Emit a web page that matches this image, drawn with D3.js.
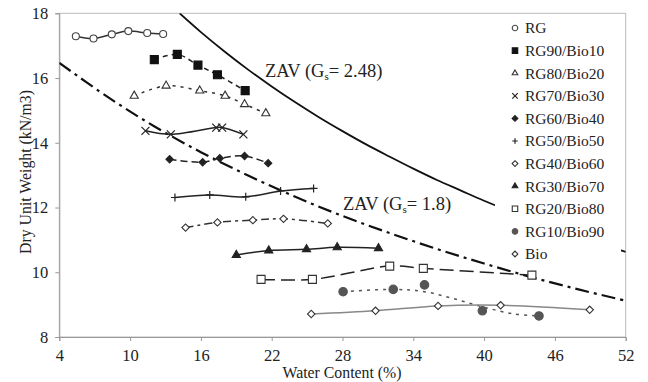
<!DOCTYPE html>
<html>
<head>
<meta charset="utf-8">
<script src="https://cdn.jsdelivr.net/npm/d3@7"></script>
<style>
  body { margin: 0; background: #fff; }
  svg text { font-family: "Liberation Serif", "Times New Roman", serif; fill: #222; }
</style>
</head>
<body>
<svg id="chart" width="648" height="382"></svg>
<script>
// compaction curves: [water content %, dry unit weight kN/m3]

var xTicks = [4, 10, 16, 22, 28, 34, 40, 46, 52];
var yTicks = [8, 10, 12, 14, 16, 18];

var rg      = [[5.4, 17.29], [6.9, 17.22], [8.45, 17.35], [9.85, 17.45], [11.45, 17.39], [12.8, 17.36]];
var rg90    = [[12.05, 16.57], [14.0, 16.73], [15.75, 16.40], [17.4, 16.10], [19.75, 15.61]];
var rg80    = [[10.35, 15.45], [13.05, 15.76], [15.9, 15.61], [18.05, 15.45], [19.7, 15.19], [21.5, 14.91]];
var rg70    = [[11.3, 14.37], [13.45, 14.26], [17.3, 14.47], [17.8, 14.47], [19.6, 14.26]];
var rg60    = [[13.35, 13.49], [16.15, 13.40], [17.6, 13.52], [19.7, 13.59], [21.7, 13.37]];
var rg50    = [[13.8, 12.31], [16.75, 12.39], [19.8, 12.33], [22.75, 12.51], [25.55, 12.59]];
var rg40    = [[14.7, 11.38], [17.4, 11.54], [20.4, 11.61], [23.0, 11.65], [26.75, 11.51]];
var rg30    = [[19.0, 10.53], [21.75, 10.67], [24.95, 10.71], [27.55, 10.77], [31.05, 10.74]];
var rg20    = [[21.1, 9.78], [25.45, 9.78], [32.0, 10.19], [34.85, 10.12], [44.05, 9.91]];
var rg10    = [[28.05, 9.40], [32.3, 9.47], [34.95, 9.61], [39.85, 8.81], [44.65, 8.65]];
var bio     = [[25.35, 8.71], [30.8, 8.81], [36.1, 8.96], [41.4, 8.98], [48.95, 8.84]];

// the RG10/Bio90 line is a fitted trend, it misses some points
var rg10Trend = [[28.05, 9.40], [32.3, 9.47], [34.95, 9.40], [37.45, 9.18], [40.0, 8.92], [42.55, 8.71], [44.65, 8.65]];

// zero air voids lines
var zav248 = [[14.2, 18.0], [16, 17.42], [18, 16.82], [20, 16.26], [22, 15.74], [24, 15.25],
              [26, 14.79], [28, 14.36], [30, 13.95], [32, 13.57], [34, 13.20], [36, 12.85],
              [38, 12.53], [40, 12.21], [44, 11.63], [48, 11.11], [52, 10.63]];
var zav18  = [[4, 16.47], [8, 15.44], [12, 14.52], [16, 13.71], [20, 12.99], [24, 12.33],
              [28, 11.74], [32, 11.21], [36, 10.72], [40, 10.27], [44, 9.85], [48, 9.47], [52, 9.12]];

var series = [
  {name: "RG",         data: rg,   marker: "circle",   fill: "#fff",  stroke: "#444", line: "#333", dash: null},
  {name: "RG90/Bio10", data: rg90, marker: "square",   fill: "#111",  stroke: "#111", line: "#222", dash: "5,4"},
  {name: "RG80/Bio20", data: rg80, marker: "triangle", fill: "#fff",  stroke: "#333", line: "#333", dash: "3,5"},
  {name: "RG70/Bio30", data: rg70, marker: "x",        fill: "none",  stroke: "#222", line: "#222", dash: null},
  {name: "RG60/Bio40", data: rg60, marker: "diamond",  fill: "#222",  stroke: "#222", line: "#222", dash: "7,4"},
  {name: "RG50/Bio50", data: rg50, marker: "plus",     fill: "none",  stroke: "#222", line: "#222", dash: null},
  {name: "RG40/Bio60", data: rg40, marker: "diamond",  fill: "#fff",  stroke: "#333", line: "#333", dash: "8,4,3,4"},
  {name: "RG30/Bio70", data: rg30, marker: "triangle", fill: "#222",  stroke: "#222", line: "#222", dash: null},
  {name: "RG20/Bio80", data: rg20, marker: "square",   fill: "#fff",  stroke: "#333", line: "#222", dash: "14,6"},
  {name: "RG10/Bio90", data: rg10, marker: "circle",   fill: "#555",  stroke: "#555", line: "#555", dash: "3,5", trend: rg10Trend},
  {name: "Bio",        data: bio,  marker: "diamond",  fill: "#fff",  stroke: "#333", line: "#888", dash: null}
];

var svg = d3.select("#chart");
var plotL = 59.3, plotR = 625.7, plotT = 13.3, plotB = 337;

var x = d3.scaleLinear().domain([4, 52]).range([plotL, plotR]);
var y = d3.scaleLinear().domain([8, 18]).range([plotB, plotT]);

// plot frame
svg.append("rect")
  .attr("x", plotL).attr("y", plotT)
  .attr("width", plotR - plotL).attr("height", plotB - plotT)
  .attr("fill", "none").attr("stroke", "#bbb").attr("stroke-width", 1);

var xAxis = svg.append("g")
  .attr("transform", "translate(0," + plotB + ")")
  .call(d3.axisBottom(x).tickValues(xTicks).tickSize(4).tickPadding(4));
var yAxis = svg.append("g")
  .attr("transform", "translate(" + plotL + ",0)")
  .call(d3.axisLeft(y).tickValues(yTicks).tickSize(4).tickPadding(7));

[xAxis, yAxis].forEach(function (g) {
  g.attr("font-family", null);
  g.select(".domain").attr("stroke", "#999");
  g.selectAll(".tick line").attr("stroke", "#999");
  g.selectAll(".tick text")
    .attr("font-size", "16.5px")
    .attr("fill", "#222");
});
xAxis.selectAll(".tick text").attr("dy", "0.95em");

svg.append("clipPath").attr("id", "plotclip")
  .append("rect").attr("x", plotL).attr("y", plotT)
  .attr("width", plotR - plotL).attr("height", plotB - plotT);

var smooth = d3.line()
  .x(function (d) { return x(d[0]); })
  .y(function (d) { return y(d[1]); })
  .curve(d3.curveCatmullRom.alpha(0.5));

var plot = svg.append("g").attr("clip-path", "url(#plotclip)");

// ZAV curves
plot.append("path").datum(zav248)
  .attr("d", smooth).attr("fill", "none")
  .attr("stroke", "#111").attr("stroke-width", 1.8);
plot.append("path").datum(zav18)
  .attr("d", smooth).attr("fill", "none")
  .attr("stroke", "#111").attr("stroke-width", 2.2)
  .attr("stroke-dasharray", "14,5,3,5");

// series lines
series.forEach(function (s) {
  plot.append("path").datum(s.trend || s.data)
    .attr("d", smooth).attr("fill", "none")
    .attr("stroke", s.line).attr("stroke-width", 1.5)
    .attr("stroke-dasharray", s.dash);
});

function drawMarker(g, kind, size, fill, stroke) {
  var h = size / 2;
  if (kind === "x") {
    g.append("path").attr("d", "M" + (-h) + "," + (-h) + "L" + h + "," + h + "M" + (-h) + "," + h + "L" + h + "," + (-h))
      .attr("stroke", stroke).attr("stroke-width", 1.2).attr("fill", "none");
  } else if (kind === "plus") {
    g.append("path").attr("d", "M" + (-h) + ",0L" + h + ",0M0," + (-h) + "L0," + h)
      .attr("stroke", stroke).attr("stroke-width", 1.2).attr("fill", "none");
  } else {
    var type = kind === "circle" ? d3.symbolCircle : kind === "triangle" ? d3.symbolTriangle : d3.symbolSquare;
    var area = kind === "circle" ? Math.PI * h * h : kind === "triangle" ? size * size * 0.45 : size * size * (kind === "diamond" ? 0.55 : 1);
    g.append("path").attr("d", d3.symbol().type(type).size(area)())
      .attr("transform", kind === "diamond" ? "rotate(45)" : null)
      .attr("fill", fill).attr("stroke", stroke).attr("stroke-width", 1.1);
  }
}

// markers
series.forEach(function (s) {
  var sz = s.marker === "circle" ? (s.fill === "#fff" ? 7 : 8.5) : s.marker === "diamond" ? 7 : 8;
  s.data.forEach(function (d) {
    var g = svg.append("g").attr("transform", "translate(" + x(d[0]) + "," + y(d[1]) + ")");
    drawMarker(g, s.marker, sz, s.fill, s.stroke);
  });
});

// ZAV labels
function zavLabel(px, py, gs) {
  var t = svg.append("text").attr("x", px).attr("y", py).attr("font-size", "18.5px");
  t.append("tspan").text("ZAV (G");
  t.append("tspan").text("s").attr("font-size", "11px").attr("dy", "3");
  t.append("tspan").text("= " + gs + ")").attr("dy", "-3");
}
zavLabel(265, 77, "2.48");
zavLabel(343, 210, "1.8");

// legend
var legend = svg.append("g");
legend.append("rect").attr("x", 495).attr("y", 16).attr("width", 126).attr("height", 246).attr("fill", "#fff");
series.forEach(function (s, i) {
  var ly = 28 + i * 22.6;
  var g = legend.append("g").attr("transform", "translate(515," + ly + ")");
  drawMarker(g, s.marker, 5.5, s.fill, s.stroke);
  legend.append("text").attr("x", 525).attr("y", ly).attr("dy", "0.35em")
    .attr("font-size", "15.5px").text(s.name);
});

// axis titles
svg.append("text").attr("x", 342).attr("y", 378)
  .attr("text-anchor", "middle").attr("font-size", "15.8px").text("Water Content (%)");
svg.append("text").attr("transform", "translate(31,172) rotate(-90)")
  .attr("text-anchor", "middle").attr("font-size", "15.8px").text("Dry Unit Weight (kN/m3)");
</script>
</body>
</html>
